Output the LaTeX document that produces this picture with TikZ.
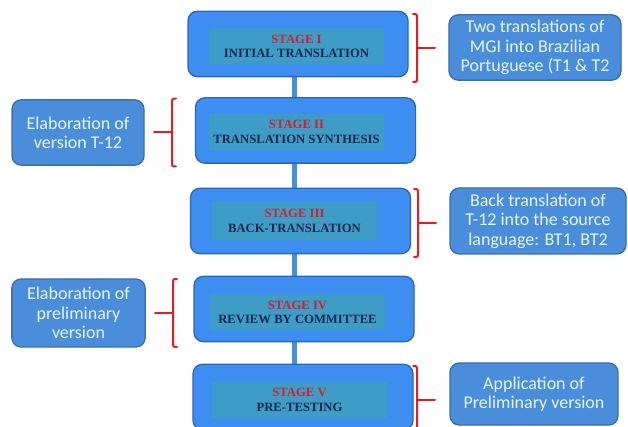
\documentclass[tikz,border=0pt]{standalone}
\usepackage{fontspec}
\setmainfont{Liberation Serif}
\newfontfamily\boxfont{Carlito}
\usepackage{tikz}
\usetikzlibrary{calc,backgrounds}
\definecolor{stagefill}{HTML}{3D8EF0}
\definecolor{stageline}{HTML}{2A66C0}
\definecolor{innerfill}{HTML}{3F9CC6}
\definecolor{stagered}{HTML}{D0202A}
\definecolor{stagetext}{HTML}{14294F}
\definecolor{sidefill}{HTML}{4A8DDA}
\definecolor{sideline}{HTML}{3A6DAE}
\definecolor{sidetext}{HTML}{E6F6FF}
\definecolor{linkblue}{HTML}{4590E0}
\definecolor{brkred}{HTML}{E01E24}
\tikzset{
  stage/.style={draw=stageline, fill=stagefill, line width=1pt, rounded corners=7pt, minimum width=165pt, minimum height=49pt},
  inner/.style={fill=innerfill, inner sep=0pt, minimum width=131pt, minimum height=27pt, align=center, text=stagetext, font=\bfseries\fontsize{9.5}{11}\selectfont},
  side/.style={draw=sideline, fill=sidefill, line width=1pt, rounded corners=7pt, inner sep=0pt, align=center, text=sidetext, font=\boxfont\fontsize{13.5}{14.5}\selectfont},
  bar/.style={draw=linkblue, line width=4pt},
  brace/.style={draw=brkred, line width=1.5pt, line cap=round, line join=round}
}

\begin{document}
\begin{tikzpicture}[x=0.75pt,y=-0.75pt]
  \useasboundingbox (0,0) rectangle (628,427);

  \node[stage] (S1) at (298,44) {};
  \node[stage] (S2) at (305.5,130.5) {};
  \node[stage] (S3) at (300.5,221) {};
  \node[stage] (S4) at (304,309) {};
  \node[stage] (S5) at (303,397) {};

  \node[inner] (I1) at (296.5,46.5) {{\color{stagered}STAGE I}\\INITIAL TRANSLATION};
  \node[inner] (I2) at (296.5,132) {{\color{stagered}STAGE II}\\TRANSLATION SYNTHESIS};
  \node[inner,minimum width=124pt,minimum height=28.5pt] (I3) at (294.5,221) {{\color{stagered}STAGE III}\\BACK-TRANSLATION};
  \node[inner] (I4) at (297.5,312.5) {{\color{stagered}STAGE IV}\\REVIEW BY COMMITTEE};
  \node[inner] (I5) at (299.5,400) {{\color{stagered}STAGE V}\\PRE-TESTING};

  \begin{scope}[on background layer]
    \fill[white] (0,0) rectangle (628,427);
    \draw[bar] (I3 |- S1) -- (I3 |- S5);
  \end{scope}

  \node[side,minimum width=129pt,minimum height=49pt] (R1) at (535,47.5) {Two translations of\\MGI into Brazilian\\Portuguese (T1 \& T2};
  \node[side,minimum width=99pt,minimum height=49pt] (L2) at (78,132.5) {Elaboration of\\version T-12};
  \node[side,minimum width=132pt,minimum height=49.5pt] (R3) at (538,221) {Back translation of\\T-12 into the source\\language: BT1, BT2};
  \node[side,minimum width=100pt,minimum height=51pt] (L4) at (78.5,313) {Elaboration of\\preliminary\\version};
  \node[side,minimum width=126pt,minimum height=46.5pt] (R5) at (534,394) {Application of\\Preliminary version};

  \coordinate (b1) at (417,48);
  \coordinate (b2) at (172,132.5);
  \coordinate (b3) at (418,223);
  \coordinate (b4) at (173,313);
  \coordinate (b5) at (417,400);

  \foreach \b in {b1,b3,b5}{
    \draw[brace] ($(\b)+(-4,-34)$) .. controls ($(\b)+(0,-34)$) .. ($(\b)+(0,-29)$)
      -- ($(\b)+(0,29)$) .. controls ($(\b)+(0,34)$) .. ($(\b)+(-4,34)$);
    \draw[brace] (\b) -- ++(18,0);
  }
  \foreach \b in {b2,b4}{
    \draw[brace] ($(\b)+(4,-34)$) .. controls ($(\b)+(0,-34)$) .. ($(\b)+(0,-29)$)
      -- ($(\b)+(0,29)$) .. controls ($(\b)+(0,34)$) .. ($(\b)+(4,34)$);
    \draw[brace] (\b) -- ++(-18,0);
  }
\end{tikzpicture}
\end{document}
